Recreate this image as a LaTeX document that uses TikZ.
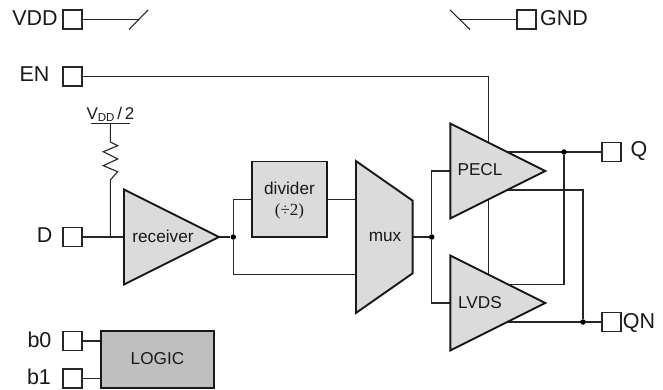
\documentclass[tikz,border=0pt]{standalone}
\usepackage{fontspec}
\setmainfont{Liberation Sans}
\newfontfamily\serifnum{Liberation Serif}
\usetikzlibrary{shapes.geometric, backgrounds}
\tikzset{
    pad/.style={draw=black!85, fill=white, line width=1.1pt, minimum size=19pt, inner sep=0pt, outer sep=0pt},
    amp/.style={draw=black!90, fill=black!14, line width=1.9pt, shape=isosceles triangle, isosceles triangle stretches, minimum width=95pt, minimum height=95pt, inner sep=0pt, outer sep=0pt, anchor=lower side},
    block/.style={draw=black!90, line width=1.9pt, inner sep=0pt, outer sep=0pt},
    muxbox/.style={draw=black!90, fill=black!14, line width=1.9pt, shape=trapezium, shape border rotate=270, trapezium stretches, trapezium angle=61.4, minimum width=152pt, minimum height=56.7pt, inner sep=2pt, outer sep=0pt},
    dot/.style={shape=circle, fill=black, minimum size=5.5pt, inner sep=0pt},
    wire/.style={draw=black!85, line width=1.1pt},
    txt/.style={anchor=base, inner sep=0pt, font=\fontsize{17.2}{18}\selectfont, text=black!90},
    pin/.style={anchor=base, inner sep=0pt, font=\fontsize{21.5}{22}\selectfont, text=black!90},
}
\begin{document}
\begin{tikzpicture}[x=1pt, y=-1pt]
\useasboundingbox (0,0) rectangle (663,390);
% pads
\node[pad] (vdd) at (72.5,19.5) {};
\node[pad] (gnd) at (526.5,19.5) {};
\node[pad] (en) at (72.5,76.5) {};
\node[pad] (d) at (72.5,237) {};
\node[pad] (b0) at (72.5,341) {};
\node[pad] (b1) at (72.5,378.5) {};
\node[pad] (q) at (611.5,152) {};
\node[pad] (qn) at (611.5,322) {};
\node[pin] (vddlab) at (35,26) {VDD};
\node[pin] (gndlab) at (564,25.5) {GND};
\node[pin] (enlab) at (34.5,81.7) {EN};
\node[pin] (dlab) at (44.7,242.7) {D};
\node[pin] (b0lab) at (39.5,347.3) {b0};
\node[pin] (b1lab) at (39,384.3) {b1};
\node[pin] (qlab) at (639,156.7) {Q};
\node[pin] (qnlab) at (639,328.3) {QN};
% blocks
\node[amp] (receiver) at (124,237) {};
\node[amp] (pecl) at (450.3,171) {};
\node[amp] (lvds) at (450.3,303) {};
\node[block, fill=black!14, minimum width=75pt, minimum height=75.5pt] (divider) at (289.5,199.3) {};
\node[block, fill=black!25, minimum width=113.6pt, minimum height=57pt] (logic) at (157.5,359.8) {};
\node[muxbox] (mux) at (384.3,237) {};
\node[txt] (receiverlab) at (163,242) {receiver};
\node[txt] (peclab) at (480,175.3) {PECL};
\node[txt] (lvdslab) at (480,308.3) {LVDS};
\node[txt] (muxlab) at (385,241.7) {mux};
\node[txt] (divlab) at (289.5,194.3) {divider};
\node[txt, font=\serifnum\fontsize{17}{18}\selectfont] (divnlab) at (289.5,215) {(÷2)};
\node[txt] (logiclab) at (157.5,364.3) {LOGIC};
% dots
\node[dot] (rxdot) at (233.3,237) {};
\node[dot] (muxdot) at (431.7,237) {};
\node[dot] (qdot) at (564,152) {};
\node[dot] (qndot) at (583,322) {};
% free ends
\coordinate (vddend) at (138.5,19.5);
\coordinate (vdda) at (129,29.5);
\coordinate (vddb) at (148,10);
\coordinate (gndend) at (460,19.5);
\coordinate (gnda) at (450,10);
\coordinate (gndb) at (470,29.5);
\coordinate (entap) at (488.7,303);
\coordinate (bias) at (110.3,123.7);
\coordinate (biasl) at (91,123.7);
\coordinate (biasr) at (129.7,123.7);
\coordinate (rtop) at (110.3,142);
\coordinate (rbot) at (110.3,180);
\coordinate (dtap) at (110.3,237);
\coordinate (pecltap) at (583,190);
\coordinate (lvdstap) at (564,284.3);
\node[anchor=base, inner sep=0pt, text=black!90] (vhalf) at (110.5,119.3) {\fontsize{17}{18}\selectfont V\fontsize{11.5}{12}\selectfont\raisebox{-2.5pt}{DD}\fontsize{17}{18}\selectfont\,/\,2};
\begin{pgfonlayer}{background}
    \draw[wire] (vdd.east) -- (vddend);
    \draw[wire] (vdda) -- (vddb);
    \draw[wire] (gnd.west) -- (gndend);
    \draw[wire] (gnda) -- (gndb);
    \draw[wire] (en.east) -| (entap);
    \draw[wire] (biasl) -- (biasr);
    \draw[wire] (bias) -- (rtop) -- (117.7,145.7) -- (103.3,151.7) -- (117.7,159) -- (103.3,165.7) -- (117.7,171.7) -- (rbot) -- (dtap);
    \draw[wire] (d.east) -- (receiver.lower side);
    \draw[wire] (receiver.apex) -- (rxdot);
    \draw[wire] (rxdot) |- (divider.west);
    \draw[wire] (rxdot) |- (356,274.7);
    \draw[wire] (divider.east) -- (356,199.3);
    \draw[wire] (mux) -- (muxdot);
    \draw[wire] (muxdot) |- (pecl.lower side);
    \draw[wire] (muxdot) |- (lvds.lower side);
    \draw[wire] (pecl.lower side |- q.west) -- (q.west);
    \draw[wire] (pecl.lower side |- pecltap) -- (pecltap) -- (qndot);
    \draw[wire] (qdot) -- (lvdstap) -- (lvds.lower side |- lvdstap);
    \draw[wire] (lvds.lower side |- qn.west) -- (qn.west);
    \draw[wire] (b0.east) -- (logic.west |- b0.east);
    \draw[wire] (b1.east) -- (logic.west |- b1.east);
\end{pgfonlayer}
\end{tikzpicture}
\end{document}
